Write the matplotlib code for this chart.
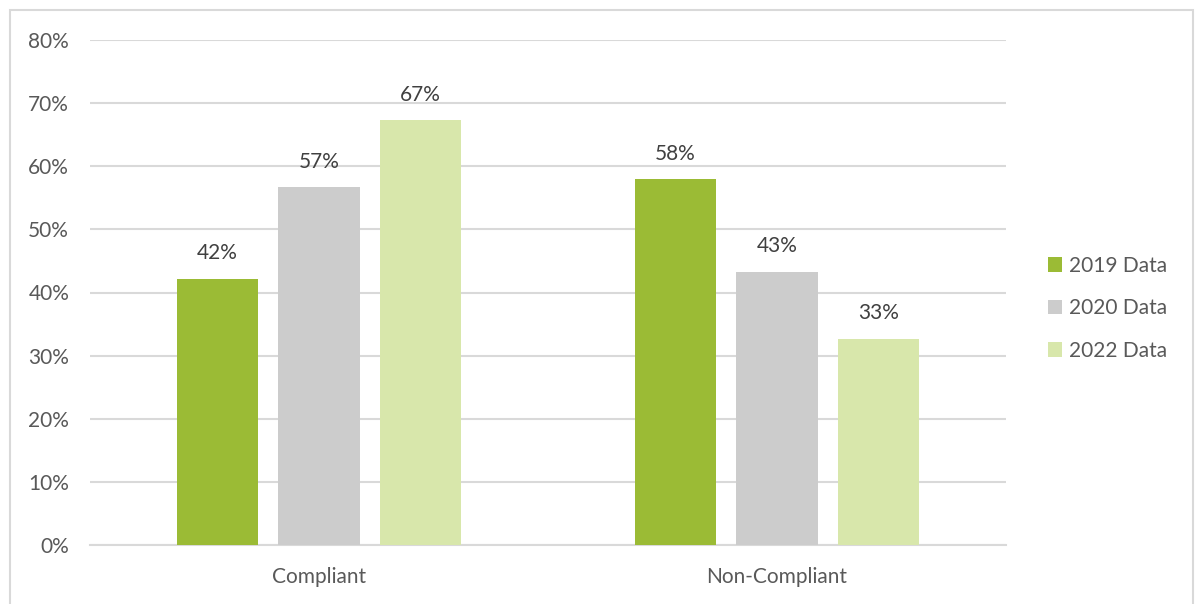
import matplotlib
matplotlib.use("Agg")
import matplotlib.pyplot as plt
import numpy as np
from matplotlib.patches import Rectangle
from matplotlib.ticker import PercentFormatter

categories = ["Compliant", "Non-Compliant"]
series_names = ["2019 Data", "2020 Data", "2022 Data"]
data_2019 = [42.2, 58.0]
data_2020 = [56.7, 43.3]
data_2022 = [67.3, 32.7]
yticks = [0, 10, 20, 30, 40, 50, 60, 70, 80]

colors = ["#9BBB35", "#CCCCCC", "#D8E7AB"]
text_color = "#595959"
grid_color = "#D9D9D9"

plt.rcParams["font.family"] = ["Lato", "DejaVu Sans"]

fig = plt.figure(figsize=(11.95, 6.04), dpi=100)
ax = fig.add_axes([90 / 1195, 59 / 604, 916 / 1195, 505 / 604])

x = np.arange(len(categories))
width = 0.177
pitch = 0.2216
for i, (name, vals) in enumerate(zip(series_names, [data_2019, data_2020, data_2022])):
    xs = x + (i - 1) * pitch
    bars = ax.bar(xs, vals, width=width, color=colors[i], label=name, zorder=3)
    for b, v in zip(bars, vals):
        ax.annotate(f"{v:.0f}%", (b.get_x() + b.get_width() / 2, v),
                    xytext=(0, 11), textcoords="offset points",
                    ha="center", va="bottom", fontsize=15, color="#404040")

ax.set_xlim(-0.5, 1.5)
ax.set_ylim(0, 80)
ax.set_yticks(yticks)
ax.yaxis.set_major_formatter(PercentFormatter(decimals=0))
ax.set_xticks(x)
ax.set_xticklabels(categories)
ax.tick_params(axis="both", length=0, labelsize=15, labelcolor=text_color)
ax.tick_params(axis="y", pad=15)
ax.tick_params(axis="x", pad=16)
ax.grid(axis="y", color=grid_color, linewidth=1.5, zorder=0)
for s in ["top", "right", "left"]:
    ax.spines[s].set_visible(False)
ax.spines["bottom"].set_color(grid_color)
ax.spines["bottom"].set_linewidth(1.5)

leg = ax.legend(loc="center left", bbox_to_anchor=(1.034, 0.469), frameon=False,
                fontsize=15, labelcolor=text_color, handlelength=0.7,
                handleheight=0.7, handletextpad=0.35, labelspacing=1.08,
                borderpad=0)

# chart area border
fig.add_artist(Rectangle((10 / 1195, -0.05), 1183 / 1195, 1.05 - 10 / 604,
                         transform=fig.transFigure, fill=False,
                         edgecolor=grid_color, linewidth=1.5))

fig.savefig("out.png", dpi=100, facecolor="white")
